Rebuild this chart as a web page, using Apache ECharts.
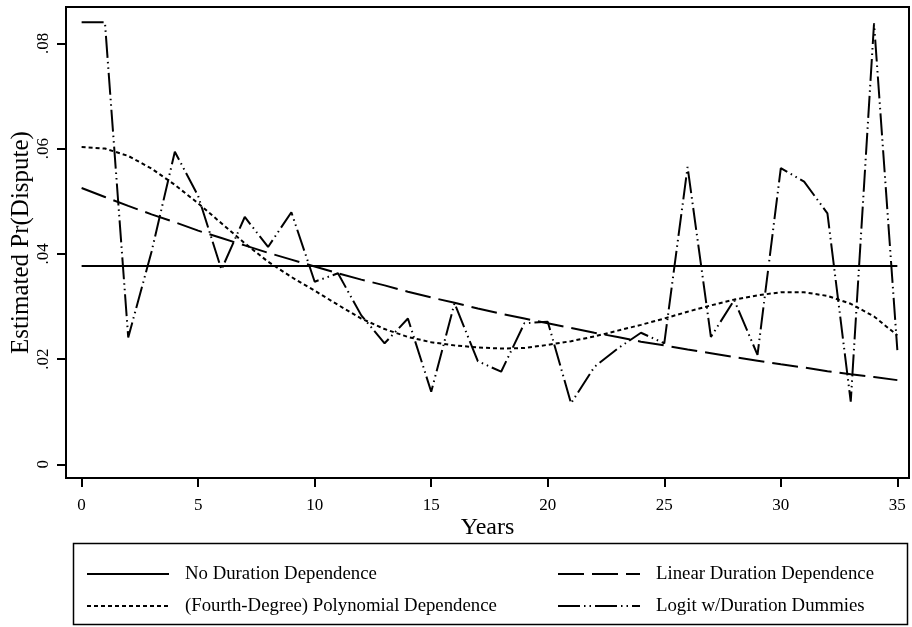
<!DOCTYPE html>
<html>
<head>
<meta charset="utf-8">
<script src="https://cdn.jsdelivr.net/npm/echarts@6/dist/echarts.min.js"></script>
<style>
  html, body { margin: 0; padding: 0; background: #fff; }
  #chart { width: 912px; height: 627px; }
</style>
</head>
<body>
<div id="chart"></div>
<script>
// Years since last dispute
const years = [0, 1, 2, 3, 4, 5, 6, 7, 8, 9, 10, 11, 12, 13, 14, 15, 16, 17,
               18, 19, 20, 21, 22, 23, 24, 25, 26, 27, 28, 29, 30, 31, 32, 33, 34, 35];

// Estimated Pr(Dispute) under each model
const noDuration = [0.0377, 0.0377, 0.0377, 0.0377, 0.0377, 0.0377, 0.0377, 0.0377, 0.0377,
                    0.0377, 0.0377, 0.0377, 0.0377, 0.0377, 0.0377, 0.0377, 0.0377, 0.0377,
                    0.0377, 0.0377, 0.0377, 0.0377, 0.0377, 0.0377, 0.0377, 0.0377, 0.0377,
                    0.0377, 0.0377, 0.0377, 0.0377, 0.0377, 0.0377, 0.0377, 0.0377, 0.0377];

const linearDep = [0.0525, 0.0508, 0.0491, 0.0475, 0.0460, 0.0444, 0.0430, 0.0416, 0.0402,
                   0.0389, 0.0376, 0.0363, 0.0351, 0.0340, 0.0328, 0.0317, 0.0307, 0.0296,
                   0.0286, 0.0277, 0.0268, 0.0259, 0.0250, 0.0242, 0.0233, 0.0226, 0.0218,
                   0.0211, 0.0204, 0.0197, 0.0190, 0.0184, 0.0177, 0.0171, 0.0166, 0.0160];

const polyDep = [0.0603, 0.0600, 0.0586, 0.0562, 0.0531, 0.0496, 0.0458, 0.0420, 0.0385,
                 0.0356, 0.0330, 0.0303, 0.0277, 0.0257, 0.0242, 0.0232, 0.0226, 0.0222,
                 0.0220, 0.0221, 0.0227, 0.0234, 0.0243, 0.0254, 0.0265, 0.0277, 0.0290,
                 0.0302, 0.0313, 0.0321, 0.0327, 0.0327, 0.0320, 0.0305, 0.0281, 0.0245];

const logitDummies = [0.0840, 0.0840, 0.0241, 0.0404, 0.0594, 0.0510, 0.0370, 0.0470, 0.0413,
                      0.0479, 0.0347, 0.0363, 0.0283, 0.0230, 0.0277, 0.0138, 0.0306, 0.0196,
                      0.0176, 0.0268, 0.0271, 0.0116, 0.0185, 0.0220, 0.0250, 0.0230, 0.0565,
                      0.0242, 0.0312, 0.0208, 0.0563, 0.0537, 0.0477, 0.0119, 0.0838, 0.0217];

// Axis ticks
const xTicks = [0, 5, 10, 15, 20, 25, 30, 35];
const yTicks = [0, 0.02, 0.04, 0.06, 0.08];

const seriesNames = ['No Duration Dependence', 'Linear Duration Dependence',
                     '(Fourth-Degree) Polynomial Dependence', 'Logit w/Duration Dummies'];

const FONT = '"Liberation Serif", "Times New Roman", serif';
const INK = '#000';

function pairs(vals) {
  return years.map((y, i) => [y, vals[i]]);
}

function lineSeries(name, vals, type, z) {
  return {
    name: name,
    type: 'line',
    data: pairs(vals),
    symbol: 'none',
    silent: true,
    z: z,
    lineStyle: { color: INK, width: 2, type: type, cap: 'butt' },
    itemStyle: { color: INK }
  };
}

// One legend block per key entry so the 2x2 layout can be placed exactly
function legendAt(name, left, top) {
  return {
    data: [name],
    left: left,
    top: top,
    padding: 0,
    itemWidth: 82,
    itemHeight: 20,
    selectedMode: false,
    itemStyle: { opacity: 0 },
    textStyle: { fontFamily: FONT, fontSize: 18.8, color: INK, lineHeight: 20, padding: [0, 0, 0, 11] }
  };
}

const chart = echarts.init(document.getElementById('chart'), null, { renderer: 'canvas' });

chart.setOption({
  animation: false,
  backgroundColor: '#fff',
  grid: {
    left: 66, right: 3, top: 7, bottom: 149,
    outerBoundsMode: 'none',
    containLabel: false,
    show: true, borderColor: INK, borderWidth: 2, backgroundColor: 'transparent'
  },
  xAxis: {
    type: 'value',
    min: -0.67, max: 35.5,
    name: 'Years',
    nameLocation: 'middle',
    nameGap: 38,
    nameMoveOverlap: false,
    nameTextStyle: { fontFamily: FONT, fontSize: 24, color: INK },
    axisLine: { show: true, onZero: false, lineStyle: { color: INK, width: 2 } },
    axisTick: { show: true, length: 9, customValues: xTicks, lineStyle: { color: INK, width: 2 } },
    axisLabel: {
      customValues: xTicks, margin: 19,
      fontFamily: FONT, fontSize: 17, color: INK
    },
    splitLine: { show: false }
  },
  yAxis: {
    type: 'value',
    min: -0.0026, max: 0.0869,
    name: 'Estimated Pr(Dispute)',
    nameLocation: 'middle',
    nameGap: 32,
    nameRotate: 90,
    nameMoveOverlap: false,
    nameTextStyle: { fontFamily: FONT, fontSize: 25, color: INK },
    axisLine: { show: true, onZero: false, lineStyle: { color: INK, width: 2 } },
    axisTick: { show: true, length: 9, customValues: yTicks, lineStyle: { color: INK, width: 2 } },
    axisLabel: {
      customValues: yTicks, rotate: 90, margin: 14,
      fontFamily: FONT, fontSize: 17, color: INK,
      formatter: v => (v === 0 ? '0' : v.toFixed(2).replace(/^0/, ''))
    },
    splitLine: { show: false }
  },
  legend: [
    legendAt(seriesNames[0], 86, 564),
    legendAt(seriesNames[1], 557, 564),
    legendAt(seriesNames[2], 86, 596),
    legendAt(seriesNames[3], 557, 596)
  ],
  graphic: [{
    type: 'rect',
    shape: { x: 73.5, y: 543.5, width: 834, height: 81 },
    style: { fill: 'none', stroke: INK, lineWidth: 1.5 },
    silent: true
  }],
  series: [
    lineSeries(seriesNames[0], noDuration, 'solid', 4),
    lineSeries(seriesNames[1], linearDep, [26, 8], 3),
    lineSeries(seriesNames[2], polyDep, [4, 3], 2),
    lineSeries(seriesNames[3], logitDummies, [22, 4, 1.5, 4, 1.5, 4], 1)
  ]
});
</script>
</body>
</html>
